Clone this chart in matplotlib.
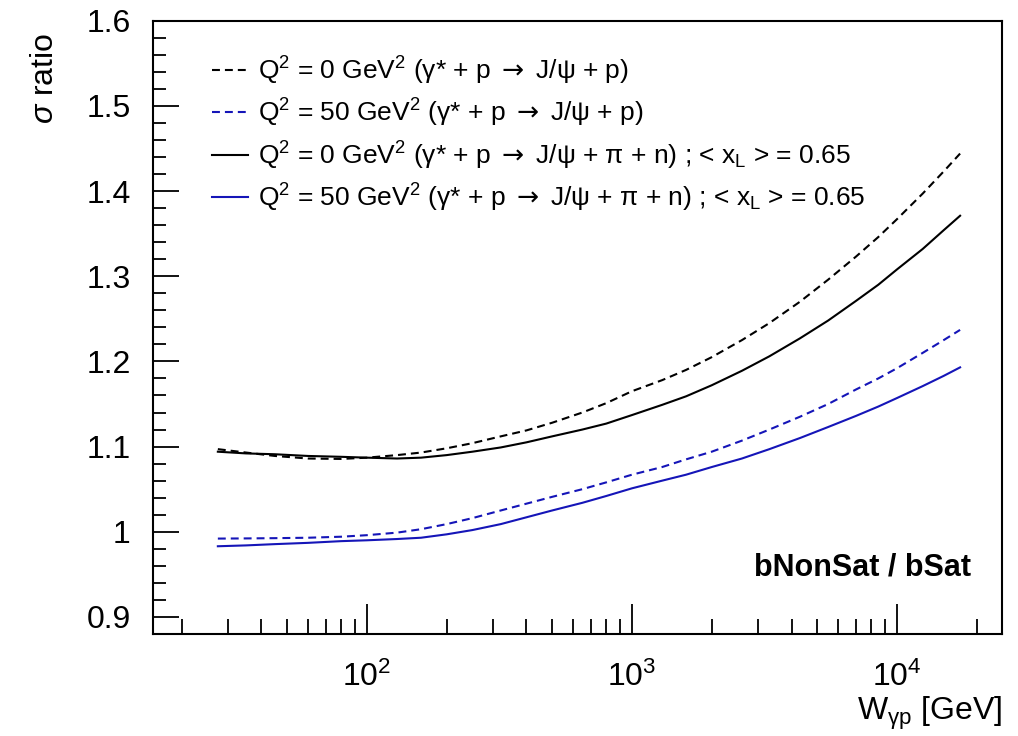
import numpy as np
import matplotlib
matplotlib.use("Agg")
import matplotlib.pyplot as plt
from matplotlib.ticker import MultipleLocator, LogLocator, FixedLocator, FixedFormatter, NullFormatter

plt.rcParams['font.family'] = ['Liberation Sans', 'DejaVu Sans']
plt.rcParams['mathtext.fontset'] = 'custom'
plt.rcParams['mathtext.rm'] = 'Liberation Sans'
plt.rcParams['mathtext.it'] = 'Liberation Sans:italic'
plt.rcParams['mathtext.bf'] = 'Liberation Sans:bold'
plt.rcParams['mathtext.sf'] = 'DejaVu Sans'

# energie W_gp [GeV]
W = [27.4, 35, 45, 60, 80, 100, 130, 160, 200, 250, 320, 400, 500, 650, 800,
     1000, 1300, 1600, 2000, 2600, 3300, 4300, 5500, 7000, 8500, 10000, 12500, 15000, 17300]

# stosunek przekrojów bNonSat / bSat
q0_p = [1.097, 1.093, 1.089, 1.086, 1.0855, 1.087, 1.090, 1.093, 1.098, 1.104,
        1.112, 1.119, 1.128, 1.140, 1.151, 1.165, 1.178, 1.190, 1.205, 1.225,
        1.245, 1.270, 1.296, 1.323, 1.346, 1.367, 1.397, 1.423, 1.444]
q50_p = [0.992, 0.9922, 0.9925, 0.993, 0.9942, 0.996, 0.999, 1.003, 1.009, 1.016,
         1.025, 1.033, 1.041, 1.050, 1.058, 1.067, 1.076, 1.085, 1.094, 1.107,
         1.120, 1.135, 1.150, 1.167, 1.180, 1.192, 1.210, 1.225, 1.237]
q0_pin = [1.094, 1.092, 1.091, 1.089, 1.088, 1.087, 1.086, 1.087, 1.090, 1.094,
          1.099, 1.105, 1.112, 1.120, 1.127, 1.137, 1.149, 1.159, 1.172, 1.189,
          1.206, 1.227, 1.248, 1.271, 1.290, 1.308, 1.332, 1.354, 1.371]
q50_pin = [0.983, 0.984, 0.9855, 0.987, 0.989, 0.990, 0.9915, 0.993, 0.997, 1.002,
           1.009, 1.017, 1.025, 1.034, 1.042, 1.051, 1.060, 1.067, 1.076, 1.086,
           1.097, 1.110, 1.123, 1.136, 1.147, 1.157, 1.171, 1.183, 1.193]

strz = r'$\mathsf{\rightarrow}$'
etykiety = [
    r'Q$^{2}$ = 0 GeV$^{2}$ (γ* + p ' + strz + r' J/ψ + p)',
    r'Q$^{2}$ = 50 GeV$^{2}$ (γ* + p ' + strz + r' J/ψ + p)',
    r'Q$^{2}$ = 0 GeV$^{2}$ (γ* + p ' + strz + r' J/ψ + π + n) ; < x$_{\mathrm{L}}$ > = 0.65',
    r'Q$^{2}$ = 50 GeV$^{2}$ (γ* + p ' + strz + r' J/ψ + π + n) ; < x$_{\mathrm{L}}$ > = 0.65',
]

niebieski = '#1515b8'
kreski = (3.8, 2.4)

fig = plt.figure(figsize=(10.18, 7.36), dpi=100)
ax = fig.add_axes([0.1503, 0.1386, 0.8340, 0.8333])

ax.plot(W, q0_p, color='black', lw=1.5, dashes=kreski, label=etykiety[0])
ax.plot(W, q50_p, color=niebieski, lw=1.5, dashes=kreski, label=etykiety[1])
ax.plot(W, q0_pin, color='black', lw=1.5, label=etykiety[2])
ax.plot(W, q50_pin, color=niebieski, lw=1.5, label=etykiety[3])

ax.set_xscale('log')
ax.set_xlim(15.6, 24900)
ax.set_ylim(0.88, 1.6)

ax.xaxis.set_major_locator(FixedLocator([100, 1000, 10000]))
ax.xaxis.set_major_formatter(FixedFormatter([r'10$^{2}$', r'10$^{3}$', r'10$^{4}$']))
ax.xaxis.set_minor_locator(LogLocator(base=10, subs=np.arange(2, 10), numticks=20))
ax.xaxis.set_minor_formatter(NullFormatter())
ax.yaxis.set_major_locator(MultipleLocator(0.1))
ax.yaxis.set_minor_locator(MultipleLocator(0.02))
ax.yaxis.set_major_formatter(plt.FuncFormatter(lambda v, p: '1' if abs(v - 1) < 1e-9 else '%.1f' % v))

ax.tick_params(which='both', direction='in', top=False, right=False, width=1.3, labelsize=23)
ax.tick_params(axis='x', which='major', length=21.5, pad=20)
ax.tick_params(axis='x', which='minor', length=11)
ax.tick_params(axis='y', which='major', length=18.5, pad=16)
ax.tick_params(axis='y', which='minor', length=9.3)
for s in ax.spines.values():
    s.set_linewidth(1.5)

ax.set_xlabel(r'W$_{\mathrm{γp}}$ [GeV]', fontsize=23, loc='right')
ax.xaxis.set_label_coords(1.0, -0.099)
ax.set_ylabel(r'$\sigma$ ratio', fontsize=23, loc='top')
ax.yaxis.set_label_coords(-0.11, 0.98)

ax.legend(loc='upper left', bbox_to_anchor=(0.0695, 0.945), frameon=False, fontsize=19,
          handlelength=1.36, handletextpad=0.4, labelspacing=0.39, borderpad=0, borderaxespad=0)

ax.text(0.836, 0.1076, 'bNonSat / bSat', transform=ax.transAxes, ha='center', va='center',
        fontsize=22, fontweight='bold')

fig.savefig('out.png', dpi=100)
